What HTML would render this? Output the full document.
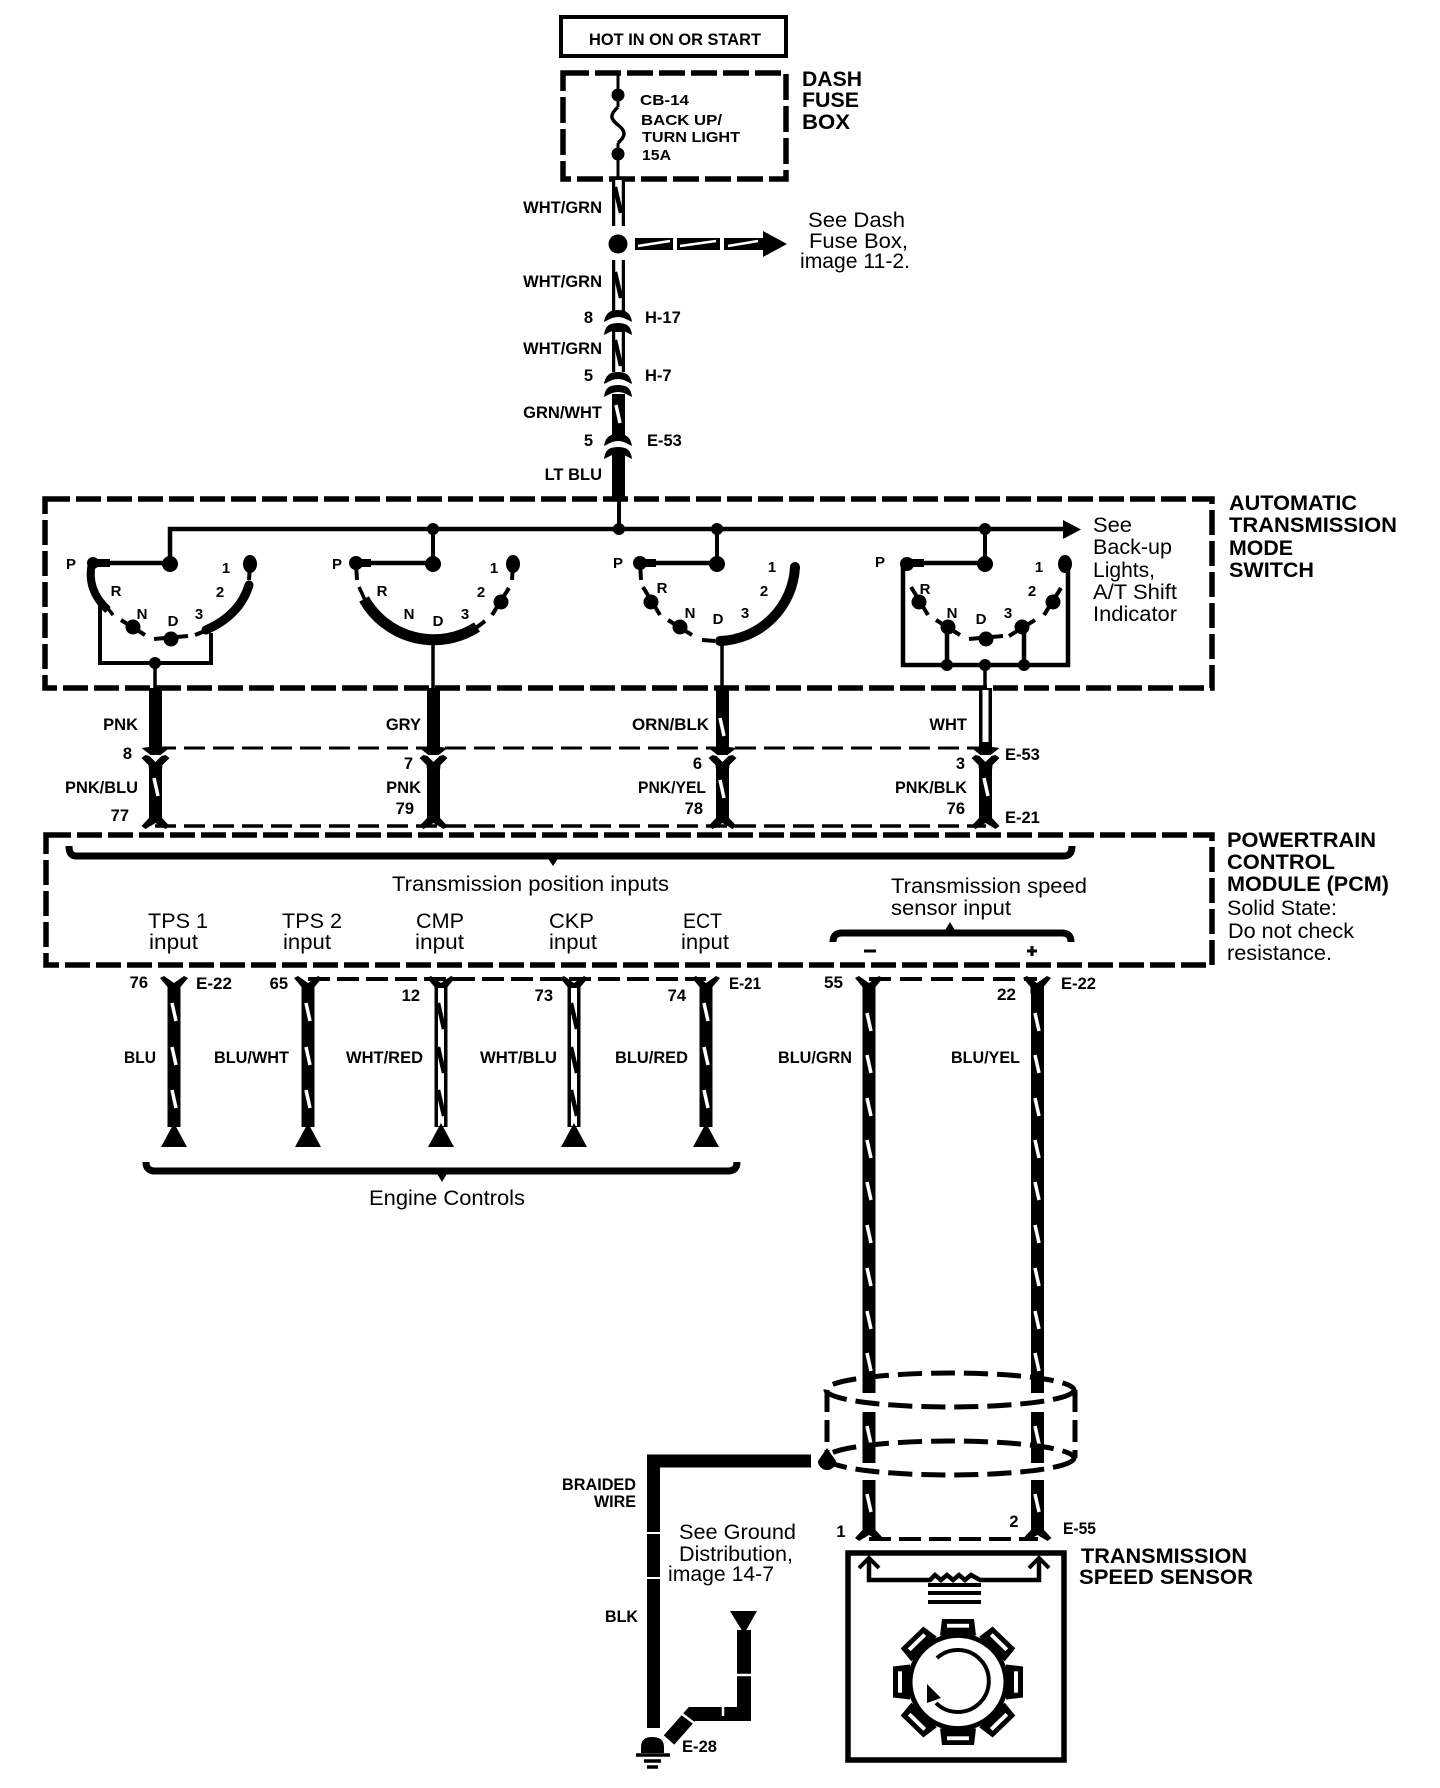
<!DOCTYPE html>
<html><head><meta charset="utf-8"><style>
html,body{margin:0;padding:0;background:#fff}
svg{display:block}
text{font-family:"Liberation Sans",sans-serif;fill:#000}
.b{font-weight:bold;font-size:16.5px}
.s{font-weight:bold;font-size:15px}
.h{font-weight:bold;font-size:21px}
.n{font-size:21px}
.e{text-anchor:end}
.m{text-anchor:middle}
.k{stroke:#000;fill:none}
</style></head><body>
<svg xmlns="http://www.w3.org/2000/svg" width="1440" height="1788" viewBox="0 0 1440 1788">
<defs>
<g id="ws"><line x1="-2" y1="0" x2="2" y2="18" stroke="#fff" stroke-width="3.5"/></g>
<g id="bs"><line x1="-3" y1="0" x2="3" y2="26" stroke="#000" stroke-width="4.5"/></g>
<path id="cH" d="M-14,6Q-13,-2 -7,-5Q0,-7 7,-5Q13,-2 14,6L10,4Q5,1 0,1Q-5,1 -10,4ZM-14,19Q-13,10 -7,8Q0,6 7,8Q13,10 14,19L10,17Q5,14 0,14Q-5,14 -10,17Z"/>
<path id="cA" d="M-6.5,-8L6.5,-8L6.5,-3L14,-2L5,5L-5,5L-14,-2L-6.500,-3ZM-14,8L-10,5L-6,6L0,12L6,6L10,5L14,8L7,15L6.500,20L-6.500,20L-7,15Z"/>
<path id="cF" d="M-6.5,-10L6.5,-10L6.500,-3L14,5L10,8L0,2L-10,8L-14,5L-6.500,-3Z"/>
<path id="cY" d="M-6.5,10L6.5,10L6.5,3L14,-6L10,-8L0,-1L-10,-8L-14,-6L-6.5,3Z"/>
<path id="tri" d="M0,-4L13,20L-13,20Z"/>
<g id="sP"><line x1="-77" y1="3" x2="-76" y2="20" class="k" stroke-width="4"/><circle cx="-77" cy="3" r="7"/></g>
<g id="sR"><line x1="-74" y1="27" x2="-57" y2="55" class="k" stroke-width="4"/><circle cx="-66" cy="42" r="7.5"/></g>
<g id="sN"><line x1="-49" y1="60" x2="-25" y2="75" class="k" stroke-width="4"/><circle cx="-37" cy="67" r="7.5"/></g>
<g id="sD"><line x1="-16" y1="79" x2="18" y2="76" class="k" stroke-width="4"/><circle cx="1" cy="79" r="7.5"/></g>
<g id="s3"><line x1="24" y1="76" x2="50" y2="60" class="k" stroke-width="4"/><circle cx="37" cy="67" r="7.5"/></g>
<g id="s2"><line x1="76" y1="28" x2="59" y2="55" class="k" stroke-width="4"/><circle cx="68" cy="42" r="7.5"/></g>
<g id="s1"><line x1="80" y1="4" x2="79" y2="20" class="k" stroke-width="4"/><ellipse cx="80" cy="4" rx="7" ry="9"/></g>
<g id="tooth"><path d="M-18,-48L-16,-65H16L18,-48Z"/><rect x="-11" y="-60" width="22" height="4" fill="#fff"/></g>
</defs>

<!-- Top -->
<rect x="561" y="17" width="225" height="39" class="k" stroke-width="4"/>
<text x="589" y="45" class="b" textLength="172" lengthAdjust="spacingAndGlyphs">HOT IN ON OR START</text>
<rect x="563" y="73" width="223" height="106" class="k" stroke-width="5.5" stroke-dasharray="26 6"/>
<text x="802" y="86" class="h" textLength="60" lengthAdjust="spacingAndGlyphs">DASH</text>
<text x="802" y="107" class="h" textLength="57" lengthAdjust="spacingAndGlyphs">FUSE</text>
<text x="802" y="129" class="h" textLength="48" lengthAdjust="spacingAndGlyphs">BOX</text>
<text x="640" y="105" class="s" textLength="49" lengthAdjust="spacingAndGlyphs">CB-14</text>
<text x="641" y="125" class="s" textLength="81" lengthAdjust="spacingAndGlyphs">BACK UP/</text>
<text x="642" y="142" class="s" textLength="98" lengthAdjust="spacingAndGlyphs">TURN LIGHT</text>
<text x="642" y="160" class="s" textLength="29" lengthAdjust="spacingAndGlyphs">15A</text>

<!-- Fuse + main wire -->
<line x1="618" y1="72" x2="618" y2="107" class="k" stroke-width="3"/>
<line x1="618" y1="143" x2="618" y2="180" class="k" stroke-width="3"/>
<path d="M618,107C608,116 612,120 618,125C626,131 626,136 618,143" class="k" stroke-width="3.5"/>
<circle cx="618" cy="95" r="6.5"/><circle cx="618" cy="154" r="6.5"/>

<g class="k">
<line x1="618.5" y1="180" x2="618.5" y2="226" stroke-width="13"/>
<line x1="618.5" y1="260" x2="618.5" y2="312" stroke-width="13"/>
<line x1="618.5" y1="328" x2="618.5" y2="372" stroke-width="13"/>
</g>
<g stroke="#fff" fill="none">
<line x1="618.5" y1="180" x2="618.5" y2="226" stroke-width="6.5"/>
<line x1="618.5" y1="260" x2="618.5" y2="312" stroke-width="6.5"/>
<line x1="618.5" y1="332" x2="618.5" y2="372" stroke-width="6.5"/>
</g>
<use href="#bs" x="618" y="187"/><use href="#bs" x="618" y="272"/><use href="#bs" x="618" y="340"/>
<circle cx="618" cy="244" r="9.5"/>
<use href="#cH" x="618" y="316"/><use href="#cH" x="618" y="378"/><use href="#cH" x="618" y="440"/>
<rect x="612" y="394" width="13" height="42"/>
<use href="#ws" x="618" y="405"/>
<rect x="612" y="454" width="13" height="46"/>
<line x1="619" y1="497" x2="619" y2="529" class="k" stroke-width="4"/>

<!-- arrow -->
<rect x="635" y="238" width="38" height="12"/><rect x="677" y="238" width="43" height="12"/><rect x="724" y="238" width="39" height="12"/>
<path d="M638,246L670,241M680,246L716,241M728,246L758,241" stroke="#fff" stroke-width="2.5" fill="none"/>
<path d="M763,231L787,244L763,257Z"/>
<text x="808" y="227" class="n" textLength="97" lengthAdjust="spacingAndGlyphs">See Dash</text>
<text x="809" y="248" class="n" textLength="99" lengthAdjust="spacingAndGlyphs">Fuse Box,</text>
<text x="800" y="268" class="n" textLength="110" lengthAdjust="spacingAndGlyphs">image 11-2.</text>

<text x="602" y="213" class="b e">WHT/GRN</text>
<text x="602" y="287" class="b e">WHT/GRN</text>
<text x="602" y="354" class="b e">WHT/GRN</text>
<text x="602" y="418" class="b e">GRN/WHT</text>
<text x="602" y="480" class="b e">LT BLU</text>
<text x="593" y="323" class="b e">8</text>
<text x="593" y="381" class="b e">5</text>
<text x="593" y="446" class="b e">5</text>
<text x="645" y="323" class="b">H-17</text>
<text x="645" y="381" class="b">H-7</text>
<text x="647" y="446" class="b">E-53</text>

<!-- Auto trans box -->
<rect x="45" y="499" width="1167" height="189" class="k" stroke-width="5.5" stroke-dasharray="25 6"/>
<text x="1229" y="510" class="h" textLength="128" lengthAdjust="spacingAndGlyphs">AUTOMATIC</text>
<text x="1229" y="532" class="h" textLength="168" lengthAdjust="spacingAndGlyphs">TRANSMISSION</text>
<text x="1229" y="555" class="h" textLength="64" lengthAdjust="spacingAndGlyphs">MODE</text>
<text x="1229" y="577" class="h" textLength="85" lengthAdjust="spacingAndGlyphs">SWITCH</text>
<text x="1093" y="532" class="n" textLength="39" lengthAdjust="spacingAndGlyphs">See</text>
<text x="1093" y="554" class="n" textLength="79" lengthAdjust="spacingAndGlyphs">Back-up</text>
<text x="1093" y="577" class="n" textLength="62" lengthAdjust="spacingAndGlyphs">Lights,</text>
<text x="1093" y="599" class="n" textLength="84" lengthAdjust="spacingAndGlyphs">A/T Shift</text>
<text x="1093" y="621" class="n" textLength="84" lengthAdjust="spacingAndGlyphs">Indicator</text>

<!-- bus -->
<path d="M170,564V529H1065" class="k" stroke-width="4.500"/>
<path d="M1063,520L1081,529.5L1063,539Z"/>
<circle cx="433" cy="529" r="6"/><circle cx="619" cy="529" r="6"/><circle cx="717" cy="529" r="6"/><circle cx="985" cy="529" r="6"/>
<path d="M433,529V564M717,529V564M985,529V564" class="k" stroke-width="4"/>
<path d="M93,563H170M354,563H433M639,563H717M907,563H985" class="k" stroke-width="4.5"/>
<path d="M93,563H110M354,563H371M639,563H656M907,563H924" class="k" stroke-width="8"/>
<circle cx="170" cy="564" r="8"/><circle cx="433" cy="564" r="8"/><circle cx="717" cy="564" r="8"/><circle cx="985" cy="564" r="8"/>

<!-- switch 1 -->
<circle cx="93" cy="563" r="6"/>
<path d="M92,563Q86,590 108,610" class="k" stroke-width="8"/>
<line x1="106" y1="606" x2="113" y2="615" class="k" stroke-width="3.5"/>
<use href="#sN" x="170" y="560"/><use href="#sD" x="170" y="560"/>
<path d="M206,630Q240,615 249,585" class="k" stroke-width="9" stroke-linecap="round"/>
<line x1="195" y1="635" x2="205" y2="631" class="k" stroke-width="4"/>
<use href="#s1" x="170" y="560"/>
<path d="M100,603V663H211V633" class="k" stroke-width="4"/>
<circle cx="155" cy="663" r="6"/><line x1="155" y1="663" x2="155" y2="688" class="k" stroke-width="3.500"/>

<!-- switch 2 -->
<use href="#sP" x="433" y="560"/>
<line x1="359" y1="587" x2="366" y2="602" class="k" stroke-width="3.500"/>
<path d="M364,599A80,80 0 0 0 477,627" class="k" stroke-width="11"/>
<line x1="472" y1="631" x2="485" y2="621" class="k" stroke-width="4"/>
<use href="#s2" x="433" y="560"/><use href="#s1" x="433" y="560"/>
<line x1="433" y1="644" x2="433" y2="688" class="k" stroke-width="3.500"/>

<!-- switch 3 -->
<use href="#sP" x="717" y="560"/><use href="#sR" x="717" y="560"/><use href="#sN" x="717" y="560"/>
<line x1="702" y1="640" x2="715" y2="641" class="k" stroke-width="4"/>
<path d="M795,567A78,78 0 0 1 720,641" class="k" stroke-width="10" stroke-linecap="round"/>
<line x1="722" y1="641" x2="722" y2="688" class="k" stroke-width="3.500"/>

<!-- switch 4 -->
<circle cx="907" cy="564" r="7"/>
<use href="#sR" x="985" y="560"/><use href="#sN" x="985" y="560"/><use href="#sD" x="985" y="560"/><use href="#s3" x="985" y="560"/><use href="#s2" x="985" y="560"/>
<ellipse cx="1065" cy="564" rx="7" ry="9"/>
<path d="M903,564V665H1068V564" class="k" stroke-width="4.500"/>
<path d="M947,665V627M1024,665V627" class="k" stroke-width="4.500"/>
<circle cx="947" cy="665" r="6"/><circle cx="985" cy="665" r="6"/><circle cx="1024" cy="665" r="6"/>
<line x1="985" y1="665" x2="985" y2="688" class="k" stroke-width="3.500"/>

<!-- switch letters -->
<g class="s m">
<text x="71" y="569" class="s m">P</text><text x="226" y="573" class="s m">1</text><text x="116" y="596" class="s m">R</text><text x="220" y="597" class="s m">2</text><text x="142" y="619" class="s m">N</text><text x="199" y="619" class="s m">3</text><text x="173" y="626" class="s m">D</text>
<text x="337" y="569" class="s m">P</text><text x="494" y="573" class="s m">1</text><text x="382" y="596" class="s m">R</text><text x="481" y="597" class="s m">2</text><text x="409" y="619" class="s m">N</text><text x="465" y="619" class="s m">3</text><text x="438" y="626" class="s m">D</text>
<text x="618" y="568" class="s m">P</text><text x="772" y="572" class="s m">1</text><text x="662" y="593" class="s m">R</text><text x="764" y="596" class="s m">2</text><text x="690" y="618" class="s m">N</text><text x="745" y="618" class="s m">3</text><text x="718" y="624" class="s m">D</text>
<text x="880" y="567" class="s m">P</text><text x="1039" y="572" class="s m">1</text><text x="925" y="594" class="s m">R</text><text x="1032" y="596" class="s m">2</text><text x="952" y="618" class="s m">N</text><text x="1008" y="618" class="s m">3</text><text x="981" y="624" class="s m">D</text>
</g>

<!-- upper wires between boxes -->
<line x1="155" y1="748" x2="986" y2="748" class="k" stroke-width="3" stroke-dasharray="21 8"/>
<line x1="155" y1="826" x2="986" y2="826" class="k" stroke-width="3.5" stroke-dasharray="21 8"/>
<rect x="149" y="688" width="13" height="60"/><rect x="427" y="688" width="13" height="60"/><rect x="716" y="688" width="13" height="60"/>
<rect x="979" y="688" width="13" height="60"/><rect x="982.5" y="690" width="6" height="58" fill="#fff"/>
<use href="#ws" x="722" y="718"/>
<use href="#cA" x="155.5" y="750"/><use href="#cA" x="433.5" y="750"/><use href="#cA" x="722.5" y="750"/><use href="#cA" x="985.5" y="750"/>
<rect x="149" y="768" width="13" height="52"/><rect x="427" y="768" width="13" height="52"/><rect x="716" y="768" width="13" height="52"/><rect x="979" y="768" width="13" height="52"/>
<use href="#ws" x="156" y="778"/><use href="#ws" x="722" y="780"/><use href="#ws" x="986" y="778"/>
<use href="#cF" x="155.5" y="821"/><use href="#cF" x="433.5" y="821"/><use href="#cF" x="722.5" y="821"/><use href="#cF" x="985.5" y="821"/>

<text x="138" y="730" class="b e">PNK</text><text x="421" y="730" class="b e">GRY</text>
<text x="632" y="730" class="b" textLength="77" lengthAdjust="spacingAndGlyphs">ORN/BLK</text><text x="967" y="730" class="b e">WHT</text>
<text x="132" y="759" class="b e">8</text><text x="413" y="769" class="b e">7</text><text x="702" y="769" class="b e">6</text><text x="965" y="769" class="b e">3</text>
<text x="1005" y="760" class="b">E-53</text>
<text x="65" y="793" class="b" textLength="73" lengthAdjust="spacingAndGlyphs">PNK/BLU</text><text x="421" y="793" class="b e">PNK</text>
<text x="638" y="793" class="b" textLength="68" lengthAdjust="spacingAndGlyphs">PNK/YEL</text><text x="895" y="793" class="b" textLength="72" lengthAdjust="spacingAndGlyphs">PNK/BLK</text>
<text x="129" y="821" class="b e">77</text><text x="414" y="814" class="b e">79</text><text x="703" y="814" class="b e">78</text><text x="965" y="814" class="b e">76</text>
<text x="1005" y="823" class="b">E-21</text>

<!-- PCM box -->
<rect x="46" y="835" width="1166" height="130" class="k" stroke-width="5.5" stroke-dasharray="25 6"/>
<path d="M69,846Q69,856 76,856H1064Q1072,856 1072,846" class="k" stroke-width="7"/>
<path d="M547,857L553,866L559,857Z"/>
<text x="392" y="891" class="n" textLength="277" lengthAdjust="spacingAndGlyphs">Transmission position inputs</text>
<text x="148" y="928" class="n" textLength="60" lengthAdjust="spacingAndGlyphs">TPS 1</text><text x="149" y="949" class="n" textLength="49" lengthAdjust="spacingAndGlyphs">input</text>
<text x="282" y="928" class="n" textLength="60" lengthAdjust="spacingAndGlyphs">TPS 2</text><text x="283" y="949" class="n" textLength="48" lengthAdjust="spacingAndGlyphs">input</text>
<text x="416" y="928" class="n" textLength="48" lengthAdjust="spacingAndGlyphs">CMP</text><text x="415" y="949" class="n" textLength="49" lengthAdjust="spacingAndGlyphs">input</text>
<text x="549" y="928" class="n" textLength="45" lengthAdjust="spacingAndGlyphs">CKP</text><text x="549" y="949" class="n" textLength="48" lengthAdjust="spacingAndGlyphs">input</text>
<text x="683" y="928" class="n" textLength="39" lengthAdjust="spacingAndGlyphs">ECT</text><text x="681" y="949" class="n" textLength="48" lengthAdjust="spacingAndGlyphs">input</text>
<text x="891" y="893" class="n" textLength="196" lengthAdjust="spacingAndGlyphs">Transmission speed</text>
<text x="891" y="915" class="n" textLength="120" lengthAdjust="spacingAndGlyphs">sensor input</text>
<path d="M833,942Q833,933 842,933H1062Q1071,933 1071,942" class="k" stroke-width="7"/>
<path d="M944,932L950,922L956,932Z"/>
<path d="M864,951H876M1027,951H1037M1032,946V956" class="k" stroke-width="3"/>
<text x="1227" y="847" class="h" textLength="149" lengthAdjust="spacingAndGlyphs">POWERTRAIN</text>
<text x="1227" y="869" class="h" textLength="108" lengthAdjust="spacingAndGlyphs">CONTROL</text>
<text x="1227" y="891" class="h" textLength="162" lengthAdjust="spacingAndGlyphs">MODULE (PCM)</text>
<text x="1227" y="915" class="n" textLength="110" lengthAdjust="spacingAndGlyphs">Solid State:</text>
<text x="1228" y="938" class="n" textLength="126" lengthAdjust="spacingAndGlyphs">Do not check</text>
<text x="1227" y="960" class="n" textLength="105" lengthAdjust="spacingAndGlyphs">resistance.</text>

<!-- lower wires -->
<line x1="308" y1="979" x2="706" y2="979" class="k" stroke-width="4" stroke-dasharray="22 7"/>
<line x1="869" y1="979" x2="1037" y2="979" class="k" stroke-width="4" stroke-dasharray="22 9"/>
<use href="#cY" x="174" y="984"/><use href="#cY" x="308" y="984"/><use href="#cY" x="441" y="984"/><use href="#cY" x="574" y="984"/><use href="#cY" x="706" y="984"/>
<rect x="167.500" y="985" width="13" height="142"/><rect x="301.500" y="985" width="13" height="142"/><rect x="434.500" y="985" width="13" height="142"/><rect x="567.500" y="985" width="13" height="142"/><rect x="699.500" y="985" width="13" height="142"/>
<rect x="438" y="988" width="6" height="138" fill="#fff"/><rect x="571" y="988" width="6" height="138" fill="#fff"/>
<use href="#ws" x="174" y="1003"/><use href="#ws" x="174" y="1047"/><use href="#ws" x="174" y="1090"/>
<use href="#ws" x="308" y="1003"/><use href="#ws" x="308" y="1047"/><use href="#ws" x="308" y="1090"/>
<use href="#ws" x="706" y="1003"/><use href="#ws" x="706" y="1047"/><use href="#ws" x="706" y="1090"/>
<use href="#bs" x="441" y="1003"/><use href="#bs" x="441" y="1047"/><use href="#bs" x="441" y="1090"/>
<use href="#bs" x="574" y="1003"/><use href="#bs" x="574" y="1047"/><use href="#bs" x="574" y="1090"/>
<use href="#tri" x="174" y="1127"/><use href="#tri" x="308" y="1127"/><use href="#tri" x="441" y="1127"/><use href="#tri" x="574" y="1127"/><use href="#tri" x="706" y="1127"/>

<text x="148" y="988" class="b e">76</text><text x="196" y="989" class="b" textLength="36" lengthAdjust="spacingAndGlyphs">E-22</text>
<text x="288" y="989" class="b e">65</text><text x="420" y="1001" class="b e">12</text><text x="553" y="1001" class="b e">73</text><text x="686" y="1001" class="b e">74</text>
<text x="729" y="989" class="b" textLength="32" lengthAdjust="spacingAndGlyphs">E-21</text>
<text x="124" y="1063" class="b" textLength="32" lengthAdjust="spacingAndGlyphs">BLU</text>
<text x="214" y="1063" class="b" textLength="75" lengthAdjust="spacingAndGlyphs">BLU/WHT</text>
<text x="346" y="1063" class="b" textLength="77" lengthAdjust="spacingAndGlyphs">WHT/RED</text>
<text x="480" y="1063" class="b" textLength="77" lengthAdjust="spacingAndGlyphs">WHT/BLU</text>
<text x="615" y="1063" class="b" textLength="73" lengthAdjust="spacingAndGlyphs">BLU/RED</text>

<path d="M146,1162Q146,1171 155,1171H728Q737,1171 737,1162" class="k" stroke-width="7"/>
<path d="M436,1172L442,1182L448,1172Z"/>
<text x="369" y="1205" class="n" textLength="156" lengthAdjust="spacingAndGlyphs">Engine Controls</text>

<!-- Speed sensor wires -->
<use href="#cY" x="869" y="984"/><use href="#cY" x="1037" y="984"/>
<rect x="862.500" y="985" width="13" height="408"/><rect x="1031" y="985" width="13" height="408"/>
<rect x="862.500" y="1412" width="13" height="51"/><rect x="1031" y="1412" width="13" height="51"/>
<rect x="862.500" y="1480" width="13" height="50"/><rect x="1031" y="1480" width="13" height="50"/>
<use href="#ws" x="869" y="1013"/><use href="#ws" x="869" y="1055"/><use href="#ws" x="869" y="1098"/><use href="#ws" x="869" y="1140"/><use href="#ws" x="869" y="1182"/><use href="#ws" x="869" y="1225"/><use href="#ws" x="869" y="1268"/><use href="#ws" x="869" y="1311"/><use href="#ws" x="869" y="1353"/><use href="#ws" x="869" y="1426"/><use href="#ws" x="869" y="1494"/>
<use href="#ws" x="1037" y="1013"/><use href="#ws" x="1037" y="1055"/><use href="#ws" x="1037" y="1098"/><use href="#ws" x="1037" y="1140"/><use href="#ws" x="1037" y="1182"/><use href="#ws" x="1037" y="1225"/><use href="#ws" x="1037" y="1268"/><use href="#ws" x="1037" y="1311"/><use href="#ws" x="1037" y="1353"/><use href="#ws" x="1037" y="1426"/><use href="#ws" x="1037" y="1494"/>
<text x="824" y="988" class="b" textLength="19" lengthAdjust="spacingAndGlyphs">55</text>
<text x="997" y="1000" class="b" textLength="19" lengthAdjust="spacingAndGlyphs">22</text>
<text x="1061" y="989" class="b" textLength="35" lengthAdjust="spacingAndGlyphs">E-22</text>
<text x="778" y="1063" class="b" textLength="74" lengthAdjust="spacingAndGlyphs">BLU/GRN</text>
<text x="951" y="1063" class="b" textLength="69" lengthAdjust="spacingAndGlyphs">BLU/YEL</text>

<!-- shield -->
<ellipse cx="950" cy="1390" rx="124" ry="17" class="k" stroke-width="5" stroke-dasharray="24 9"/>
<ellipse cx="950" cy="1458" rx="124" ry="17" class="k" stroke-width="5" stroke-dasharray="24 9"/>
<path d="M827,1390V1458M1075,1390V1458" class="k" stroke-width="5" stroke-dasharray="22 8"/>
<path d="M827,1448L836,1461A9,9 0 1 1 818,1461Z"/>
<path d="M811,1461H653.500V1730" class="k" stroke-width="13"/>
<path d="M646,1533H661M646,1578H661" stroke="#fff" stroke-width="2" fill="none"/>
<text x="562" y="1490" class="b" textLength="74" lengthAdjust="spacingAndGlyphs">BRAIDED</text>
<text x="594" y="1507" class="b" textLength="42" lengthAdjust="spacingAndGlyphs">WIRE</text>
<text x="605" y="1622" class="b" textLength="33" lengthAdjust="spacingAndGlyphs">BLK</text>
<text x="679" y="1539" class="n" textLength="117" lengthAdjust="spacingAndGlyphs">See Ground</text>
<text x="679" y="1561" class="n" textLength="114" lengthAdjust="spacingAndGlyphs">Distribution,</text>
<text x="668" y="1581" class="n" textLength="106" lengthAdjust="spacingAndGlyphs">image 14-7</text>

<!-- ground -->
<path d="M730,1611H757L744,1634Z"/>
<path d="M744,1630V1714H692L669,1740" class="k" stroke-width="14"/>
<path d="M735,1675H753M723,1698V1716M678,1711L694,1723" stroke="#fff" stroke-width="2.5" fill="none"/>
<path d="M641,1753V1747Q641,1737 652,1737Q664,1737 664,1747V1753Z"/>
<path d="M636,1755H670M644,1761H661M647,1767H658" class="k" stroke-width="3.5"/>
<rect x="640" y="1728" width="25" height="6" fill="#fff"/>
<text x="682" y="1752" class="b" textLength="35" lengthAdjust="spacingAndGlyphs">E-28</text>

<!-- sensor -->
<line x1="869" y1="1539" x2="1038" y2="1539" class="k" stroke-width="4" stroke-dasharray="22 8"/>
<use href="#cF" x="869" y="1533"/><use href="#cF" x="1037.500" y="1533"/>
<text x="841" y="1537" class="b m">1</text><text x="1014" y="1527" class="b m">2</text>
<text x="1063" y="1534" class="b" textLength="33" lengthAdjust="spacingAndGlyphs">E-55</text>
<rect x="848" y="1553" width="216" height="207" class="k" stroke-width="5.5"/>
<path d="M869,1560V1580H930L935,1575L941,1580L947,1575L953,1580L959,1575L965,1580L971,1575L980,1580H1039V1560" class="k" stroke-width="4.500"/>
<path d="M859,1568L869,1558L879,1568M1029,1568L1039,1558L1049,1568" class="k" stroke-width="4"/>
<path d="M928,1585H981M928,1593H981M928,1602H981" class="k" stroke-width="4"/>
<text x="1081" y="1563" class="h" textLength="166" lengthAdjust="spacingAndGlyphs">TRANSMISSION</text>
<text x="1079" y="1584" class="h" textLength="174" lengthAdjust="spacingAndGlyphs">SPEED SENSOR</text>

<!-- gear -->
<g transform="translate(958,1682) scale(1,.97)">
<use href="#tooth"/><use href="#tooth" transform="rotate(45)"/><use href="#tooth" transform="rotate(90)"/><use href="#tooth" transform="rotate(135)"/><use href="#tooth" transform="rotate(180)"/><use href="#tooth" transform="rotate(225)"/><use href="#tooth" transform="rotate(270)"/><use href="#tooth" transform="rotate(315)"/>
<circle r="48" fill="#fff" stroke="#000" stroke-width="5"/>
</g>
<path d="M937,1658A31,31 0 1 1 936,1703" class="k" stroke-width="4"/>
<path d="M927,1684L927,1703L941,1698Z"/>
</svg>
</body></html>
